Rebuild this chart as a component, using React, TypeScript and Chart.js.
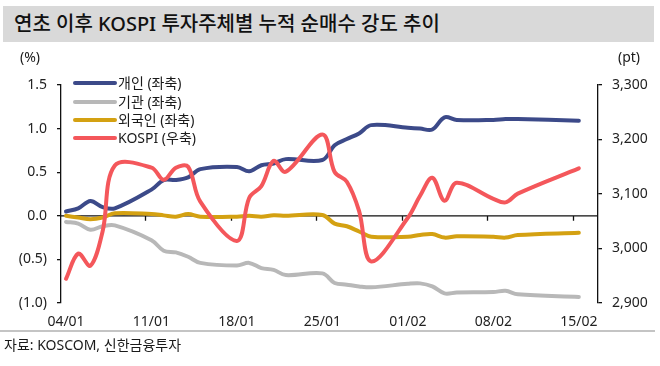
import React, { useEffect, useRef } from 'react';
import { Chart, registerables } from 'chart.js';

Chart.register(...registerables);

// Trading days, as calendar days since 04/01
const tradingDays = [0, 1, 2, 3, 4, 7, 8, 9, 10, 11, 14, 15, 16, 17, 18, 21, 22, 23, 24, 25, 28, 29, 30, 31, 32, 35, 36, 37, 42];

// 개인 (좌축), %
const individual = [0.05, 0.085, 0.17, 0.10, 0.085, 0.30, 0.41, 0.41, 0.44, 0.535, 0.56, 0.51, 0.58, 0.60, 0.65, 0.64, 0.81, 0.88, 0.945, 1.04, 1.01, 1.0, 0.99, 1.13, 1.10, 1.10, 1.11, 1.11, 1.09];
// 기관 (좌축), %
const institution = [-0.07, -0.09, -0.16, -0.12, -0.11, -0.28, -0.40, -0.42, -0.47, -0.54, -0.57, -0.54, -0.60, -0.62, -0.68, -0.66, -0.77, -0.79, -0.81, -0.82, -0.78, -0.775, -0.81, -0.89, -0.88, -0.875, -0.86, -0.90, -0.93];
// 외국인 (좌축), %
const foreign = [0.0, -0.02, -0.04, -0.02, 0.03, 0.02, 0.005, -0.01, 0.02, -0.01, -0.01, 0.0, -0.01, 0.005, 0.0, 0.01, -0.09, -0.12, -0.18, -0.24, -0.24, -0.22, -0.21, -0.25, -0.235, -0.24, -0.25, -0.22, -0.195];
// KOSPI (우축), pt
const kospi = [2944.45, 2990.57, 2968.21, 3031.68, 3152.18, 3148.45, 3125.95, 3148.29, 3149.93, 3085.9, 3013.93, 3092.66, 3114.55, 3160.84, 3140.63, 3208.99, 3140.31, 3122.56, 3069.05, 2976.21, 3056.53, 3096.81, 3129.68, 3087.55, 3120.63, 3091.24, 3084.67, 3100.58, 3147.0];

const xTickDays = [0, 7, 14, 21, 28, 35, 42];
const xTickLabels = ['04/01', '11/01', '18/01', '25/01', '01/02', '08/02', '15/02'];
const leftTicks = [-1, -0.5, 0, 0.5, 1, 1.5];
const rightTicks = [2900, 3000, 3100, 3200, 3300];

const seriesNames = ['개인 (좌축)', '기관 (좌축)', '외국인 (좌축)', 'KOSPI (우축)'];
const seriesColors = ['#3c4a89', '#b8b8b8', '#d4a112', '#f4575b'];

const TITLE = '연초 이후 KOSPI 투자주체별 누적 순매수 강도 추이';
const SOURCE = '자료: KOSCOM, 신한금융투자';
const FONT = '"Noto Sans", "Noto Sans CJK KR", sans-serif';

const zeroAxisPlugin = {
  id: 'zeroAxis',
  beforeDatasetsDraw(chart: any) {
    const { ctx, chartArea, scales } = chart;
    const y = scales.y.getPixelForValue(0);
    ctx.save();
    ctx.strokeStyle = '#111';
    ctx.lineWidth = 1.3;
    ctx.beginPath();
    ctx.moveTo(chartArea.left, y);
    ctx.lineTo(chartArea.right, y);
    for (let k = 1; k < xTickDays.length; k++) {
      const x = Math.round(scales.x.getPixelForValue(xTickDays[k] - 0.5)) + 0.5;
      ctx.moveTo(x, y);
      ctx.lineTo(x, y + 5);
    }
    ctx.stroke();
    ctx.restore();
  },
};

export default function App() {
  const ref = useRef<HTMLCanvasElement | null>(null);

  useEffect(() => {
    if (!ref.current) return;
    const mk = (vals: number[]) => tradingDays.map((d, i) => ({ x: d, y: vals[i] }));
    const common = {
      pointRadius: 0,
      borderWidth: 4,
      tension: 0.35,
      borderCapStyle: 'round' as const,
      borderJoinStyle: 'round' as const,
      fill: false,
    };
    const chart = new Chart(ref.current, {
      type: 'line',
      data: {
        datasets: [
          { ...common, label: seriesNames[3], data: mk(kospi), borderColor: seriesColors[3], yAxisID: 'y1', order: 0 },
          { ...common, label: seriesNames[0], data: mk(individual), borderColor: seriesColors[0], yAxisID: 'y', order: 1 },
          { ...common, label: seriesNames[2], data: mk(foreign), borderColor: seriesColors[2], yAxisID: 'y', order: 2 },
          { ...common, label: seriesNames[1], data: mk(institution), borderColor: seriesColors[1], yAxisID: 'y', order: 3 },
        ],
      },
      options: {
        animation: false,
        responsive: false,
        maintainAspectRatio: false,
        layout: { padding: { top: 85, bottom: 0, left: 0, right: 0 } },
        plugins: { legend: { display: false }, tooltip: { enabled: false } },
        scales: {
          x: {
            type: 'linear',
            min: -0.41,
            max: 43.57,
            grid: { display: false },
            border: { display: false },
            afterBuildTicks: (s: any) => {
              s.ticks = xTickDays.map((v) => ({ value: v }));
            },
            afterFit: (s: any) => {
              s.height = 63;
            },
            ticks: {
              autoSkip: false,
              maxRotation: 0,
              padding: 3,
              color: '#222',
              font: { family: FONT, size: 14 },
              callback: (v: any) => {
                const i = xTickDays.indexOf(Number(v));
                return i >= 0 ? xTickLabels[i] : '';
              },
            },
          },
          y: {
            position: 'left',
            min: -1,
            max: 1.5,
            afterBuildTicks: (s: any) => {
              s.ticks = leftTicks.map((v) => ({ value: v }));
            },
            afterFit: (s: any) => {
              s.width = 61;
            },
            grid: { drawOnChartArea: false, color: '#111', tickLength: 4, lineWidth: 1.3 },
            border: { color: '#111', width: 1.3 },
            ticks: {
              padding: 10,
              color: '#222',
              font: { family: FONT, size: 14 },
              callback: (v: any) => {
                const n = Number(v);
                return n < 0 ? `(${Math.abs(n).toFixed(1)})` : n.toFixed(1);
              },
            },
          },
          y1: {
            position: 'right',
            min: 2900,
            max: 3300,
            afterBuildTicks: (s: any) => {
              s.ticks = rightTicks.map((v) => ({ value: v }));
            },
            afterFit: (s: any) => {
              s.width = 62;
            },
            grid: { drawOnChartArea: false, color: '#111', tickLength: 4, lineWidth: 1.3 },
            border: { color: '#111', width: 1.3 },
            ticks: {
              padding: 10,
              color: '#222',
              font: { family: FONT, size: 14 },
              callback: (v: any) => Number(v).toLocaleString('en-US'),
            },
          },
        },
      },
      plugins: [zeroAxisPlugin],
    } as any);
    return () => chart.destroy();
  }, []);

  const legendY = [83.3, 101.5, 119.7, 137.8];

  return (
    <div style={{ position: 'fixed', left: 0, top: 0, width: 660, height: 366, background: '#fff', fontFamily: FONT, color: '#1a1a1a' }}>
      <canvas ref={ref} width={660} height={366} style={{ position: 'absolute', left: 0, top: 0, width: 660, height: 366 }} />
      <div style={{ position: 'absolute', left: 3, top: 6, width: 651, height: 36, background: '#d9d9d9' }} />
      <div style={{ position: 'absolute', left: 14, top: 6, height: 36, lineHeight: '36px', fontSize: 20, fontWeight: 500, whiteSpace: 'nowrap', color: '#111' }}>{TITLE}</div>
      <div style={{ position: 'absolute', left: 20, top: 47, lineHeight: '20px', fontSize: 14 }}>(%)</div>
      <div style={{ position: 'absolute', left: 618, top: 47, lineHeight: '20px', fontSize: 14 }}>(pt)</div>
      {seriesNames.map((name, i) => (
        <React.Fragment key={name}>
          <div style={{ position: 'absolute', left: 73, top: legendY[i] - 2, width: 44, height: 4, borderRadius: 2, background: seriesColors[i] }} />
          <div style={{ position: 'absolute', left: 118, top: legendY[i] - 10, lineHeight: '20px', fontSize: 14, whiteSpace: 'nowrap' }}>{name}</div>
        </React.Fragment>
      ))}
      <div style={{ position: 'absolute', left: 0, top: 330, width: 655, height: 2, background: '#c4c4c4' }} />
      <div style={{ position: 'absolute', left: 4, top: 335, lineHeight: '20px', fontSize: 14, whiteSpace: 'nowrap' }}>{SOURCE}</div>
    </div>
  );
}
